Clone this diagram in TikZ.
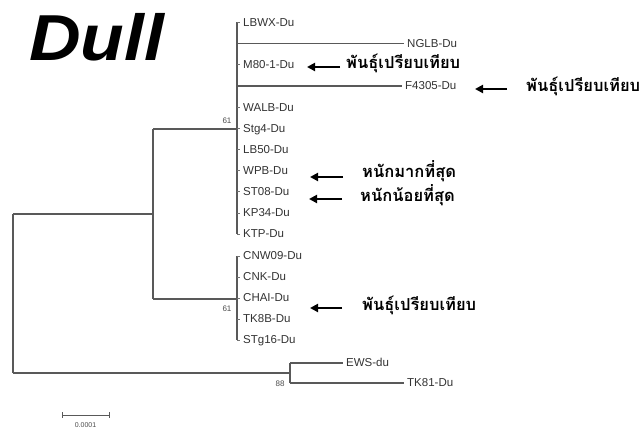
\documentclass[tikz,border=0pt]{standalone}
\usepackage{fontspec}
\setmainfont{Liberation Sans}
\newfontfamily\thaifont[Script=Thai]{Loma}
\usetikzlibrary{arrows.meta}
\begin{document}
\begin{tikzpicture}[x=1pt,y=-1pt,
  br/.style={draw=black!65, line width=1.1pt},
  leaf/.style={anchor=base west, inner sep=0pt, font=\fontsize{11.5}{13}\selectfont, text=black!80},
  boot/.style={inner sep=0pt, font=\fontsize{8}{9}\selectfont, text=black!70},
  arr/.style={-{Triangle[length=8pt,width=8pt]}, line width=2.4pt},
  thai/.style={inner sep=0pt, anchor=west, font=\thaifont\bfseries\fontsize{16.5}{18}\selectfont}]
\useasboundingbox (0,0) rectangle (641,430);
\fill[white] (0,0) rectangle (641,430);

% title
\node[anchor=base west, inner sep=0pt, xscale=1.1, font=\bfseries\itshape\fontsize{65}{70}\selectfont] (title) at (29,61) {Dull};

% internal nodes
\coordinate (root) at (13,373);
\coordinate (rootup) at (13,214);
\coordinate (a) at (153,214);
\coordinate (atop) at (153,129);
\coordinate (abot) at (153,299);
\coordinate (up) at (237,129);
\coordinate (uptop) at (237,22.5);
\coordinate (upbot) at (237,234);
\coordinate (lo) at (237,299);
\coordinate (lotop) at (237,256);
\coordinate (lobot) at (237,340);
\coordinate (e) at (290,373);
\coordinate (etop) at (290,363);
\coordinate (ebot) at (290,383);
\coordinate (ngb) at (237,43.7);
\coordinate (fb) at (237,86);

% upper cluster leaves
\node[leaf] (lbwx) at (243,26.5) {LBWX-Du};
\node[leaf] (nglb) at (407,47.7) {NGLB-Du};
\node[leaf] (m80) at (243,68.8) {M80-1-Du};
\node[leaf] (f4305) at (405,90) {F4305-Du};
\node[leaf] (walb) at (243,111.1) {WALB-Du};
\node[leaf] (stg4) at (243,132.3) {Stg4-Du};
\node[leaf] (lb50) at (243,153.4) {LB50-Du};
\node[leaf] (wpb) at (243,174.6) {WPB-Du};
\node[leaf] (st08) at (243,195.7) {ST08-Du};
\node[leaf] (kp34) at (243,216.9) {KP34-Du};
\node[leaf] (ktp) at (243,238) {KTP-Du};
% lower cluster leaves
\node[leaf] (cnw) at (243,260) {CNW09-Du};
\node[leaf] (cnk) at (243,281) {CNK-Du};
\node[leaf] (chai) at (243,302) {CHAI-Du};
\node[leaf] (tk8b) at (243,323) {TK8B-Du};
\node[leaf] (stg16) at (243,344) {STg16-Du};
% outgroup
\node[leaf] (ews) at (346,367) {EWS-du};
\node[leaf] (tk81) at (407,387) {TK81-Du};

% branches
\draw[br] (rootup) -- (root);
\draw[br] (rootup) -- (a);
\draw[br] (atop) -- (abot);
\draw[br] (atop) -- (up);
\draw[br] (abot) -- (lo);
\draw[br] (uptop) -- (upbot);
\draw[br] (lotop) -- (lobot);
\draw[br] (root) -- (e);
\draw[br] (etop) -- (ebot);
\draw[br] (etop) -- ([xshift=-3pt]ews.west |- etop);
\draw[br] (ebot) -- ([xshift=-3pt]tk81.west |- ebot);
\draw[br] (ngb) -- ([xshift=-3pt]nglb.west |- ngb);
\draw[br] (fb) -- ([xshift=-3pt]f4305.west |- fb);
\foreach \n/\yy in {lbwx/22.5,m80/64.8,walb/107.1,stg4/128.3,lb50/149.4,wpb/170.6,st08/191.7,kp34/212.9,ktp/234,cnw/256,cnk/277,chai/298,tk8b/319,stg16/340}
  \draw[draw=black!55, line width=0.6pt] (237,\yy) -- (240,\yy);

% bootstrap values
\node[boot] (b1) at (227,121) {61};
\node[boot] (b2) at (227,309) {61};
\node[boot] (b3) at (280,384) {88};

% scale bar
\coordinate (s1) at (62,415);
\coordinate (s2) at (109,415);
\draw[draw=black!65, line width=0.9pt] (s1) -- (s2);
\draw[draw=black!65, line width=0.9pt] ([yshift=-3pt]s1) -- ([yshift=3pt]s1);
\draw[draw=black!65, line width=0.9pt] ([yshift=-3pt]s2) -- ([yshift=3pt]s2);
\node[boot, font=\fontsize{7}{8}\selectfont] (slab) at (85.5,425) {0.0001};

% annotations
\node[thai] (t1) at (346,63) {พันธุ์เปรียบเทียบ};
\node[thai] (t2) at (526,86) {พันธุ์เปรียบเทียบ};
\node[thai] (t3) at (362,171) {หนักมากที่สุด};
\node[thai] (t4) at (360,195) {หนักน้อยที่สุด};
\node[thai] (t5) at (362,305) {พันธุ์เปรียบเทียบ};

\coordinate (h1) at (307,67);
\coordinate (h2) at (475,89);
\coordinate (h3) at (310,177);
\coordinate (h4) at (309,199);
\coordinate (h5) at (310,308);
\draw[arr] (h1 -| t1.west) ++(-6,0) -- (h1);
\draw[arr] (h2 -| t2.west) ++(-19,0) -- (h2);
\draw[arr] (343,177) -- (h3);
\draw[arr] (342,199) -- (h4);
\draw[arr] (342,308) -- (h5);
\end{tikzpicture}
\end{document}
